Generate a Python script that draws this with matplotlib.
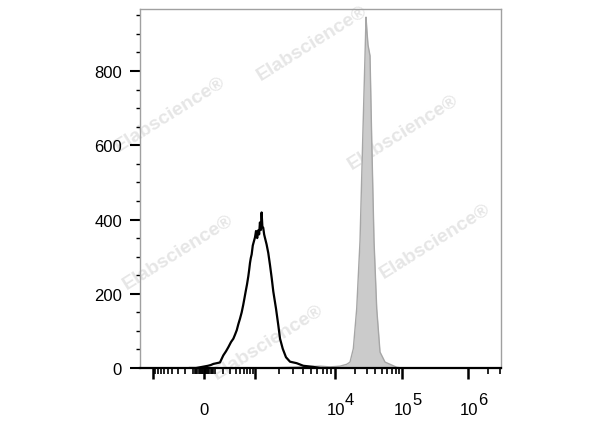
import numpy as np
import matplotlib
matplotlib.use('Agg')
import matplotlib.pyplot as plt
from matplotlib.ticker import FixedLocator, NullFormatter

plt.rcParams['font.family'] = ['Liberation Sans', 'DejaVu Sans']

# =============================================================================
# DATA
# =============================================================================

# open black histogram (control), fluorescence intensity vs count
black_x = [-136, -74, -36, 0, 36, 62, 87, 122, 158, 198, 234, 268, 311, 352,
           384, 419, 453, 492, 534, 575, 610, 646, 688, 732, 763, 792, 822,
           856, 902, 954, 1000, 1030, 1066, 1100, 1128, 1154, 1188, 1212,
           1240, 1270, 1304, 1334, 1400, 1470, 1544, 1624, 1700, 1838, 1964,
           2064, 2230, 2450, 2750, 3332, 4028, 5368, 6500]
black_y = [0, 0, 2, 4, 6, 8, 11, 13, 15, 34, 45, 56, 70, 79,
           90, 102, 118, 133, 150, 170, 188, 206, 225, 247, 265, 283, 296,
           306, 330, 342, 352, 369, 350, 371, 360, 392, 372, 419,
           380, 378, 360, 351, 333, 310, 278, 242, 206, 160, 115,
           79, 52, 29, 17, 13, 6, 3, 0]

# filled grey histogram (stained sample)
grey_x = [0, 1000, 2000, 3666, 4880, 6500, 8670, 11870, 13620, 14950, 16750,
          18760, 21080, 23610, 25910, 28040, 29020, 30030, 31090, 33300,
          35300, 38200, 41930, 46950, 55760, 70200, 83340, 100000]
grey_y = [0, 0, 1, 3, 4, 5, 3, 5, 8, 10, 16,
          52, 160, 342, 615, 841, 945, 905, 870, 841,
          615, 342, 160, 43, 16, 8, 2, 0]

y_major = [0, 200, 400, 600, 800]
y_minor = [50, 100, 150, 250, 300, 350, 450, 500, 550, 650, 700, 750, 850, 900, 950]

x_major = [-1000, 0, 1000, 10000, 100000, 1000000]
x_minor = ([-900, -800, -700, -600, -500, -400, -300, -200, -100]
           + [-80, -70, -60, -50, -40, -30, -20, -10,
              10, 20, 30, 40, 50, 60, 70, 80]
           + [100, 200, 300, 400, 500, 600, 700, 800, 900]
           + [2000, 3000, 4000, 5000, 6000, 7000, 8000, 9000]
           + [20000, 30000, 40000, 50000, 60000, 70000, 80000, 90000]
           + [2000000, 3000000])
decade_vals = [10000, 100000, 1000000]
decade_exps = ['4', '5', '6']

# biexponential-like display scale (anchor decades -> display channel)
W = 200.0
anchor_x = np.array([-1e5, -1e4, -1e3, 0, 1e3, 1e4, 1e5, 1e6, 1e7])
anchor_ch = np.array([6, 73, 153, 204, 255, 335, 402, 468, 534])
anchor_u = np.arcsinh(anchor_x / W)


def biex(x):
    return np.interp(np.arcsinh(np.asarray(x, dtype=float) / W), anchor_u, anchor_ch)


def biex_inv(c):
    return W * np.sinh(np.interp(np.asarray(c, dtype=float), anchor_ch, anchor_u))


# =============================================================================
# PLOT
# =============================================================================

fig = plt.figure(figsize=(6, 4.27), dpi=100)
ax = fig.add_axes([0.2333, 0.1358, 0.6017, 0.8408])
ax.patch.set_alpha(0)

ax.set_xscale('function', functions=(biex, biex_inv))
ax.set_xlim(-1460, 3.16e6)
ax.set_ylim(0, 967)

ax.fill_between(grey_x, grey_y, 0, color='#cbcbcb', lw=0, zorder=1)
ax.plot(grey_x, grey_y, color='#a6a6a6', lw=1.0, zorder=1.5)
ax.plot(black_x, black_y, color='black', lw=1.6, zorder=2)

# watermarks
marks = [(312, 44), (170, 115), (403, 133), (178, 253), (435, 242), (268, 343)]
for mx, my in marks:
    fig.text(mx / 600, 1 - my / 427, 'Elabscience\u00ae', rotation=32,
             color='#e6e6e6', fontsize=14, fontweight='bold',
             ha='center', va='center', zorder=-1)

# spines
for side in ['top', 'right', 'left']:
    ax.spines[side].set_color('#a0a0a0')
    ax.spines[side].set_linewidth(1.0)
ax.spines['bottom'].set_color('black')
ax.spines['bottom'].set_linewidth(1.6)

# y axis
ax.yaxis.set_major_locator(FixedLocator(y_major))
ax.yaxis.set_minor_locator(FixedLocator(y_minor))
ax.tick_params(axis='y', which='major', direction='out', length=7.5, width=1.5,
               color='black', labelsize=12, pad=5.5)
ax.tick_params(axis='y', which='minor', direction='out', length=3.2, width=1.0,
               color='black')

# x axis
ax.xaxis.set_major_locator(FixedLocator(x_major))
ax.xaxis.set_minor_locator(FixedLocator(x_minor))
ax.xaxis.set_major_formatter(NullFormatter())
ax.xaxis.set_minor_formatter(NullFormatter())
ax.tick_params(axis='x', which='major', direction='out', length=8, width=1.8,
               color='black')
ax.tick_params(axis='x', which='minor', direction='out', length=4.5, width=1.2,
               color='black')

ax.annotate('0', xy=(0, 0), xycoords=('data', 'axes fraction'),
            xytext=(0, -30.2), textcoords='offset points',
            ha='center', va='center', fontsize=12)
for v, e in zip(decade_vals, decade_exps):
    ax.annotate('10', xy=(v, 0), xycoords=('data', 'axes fraction'),
                xytext=(0.5, -30.2), textcoords='offset points',
                ha='center', va='center', fontsize=12)
    ax.annotate(e, xy=(v, 0), xycoords=('data', 'axes fraction'),
                xytext=(10.5, -22.5), textcoords='offset points',
                ha='center', va='center', fontsize=12)

plt.savefig('out.png', dpi=100)
